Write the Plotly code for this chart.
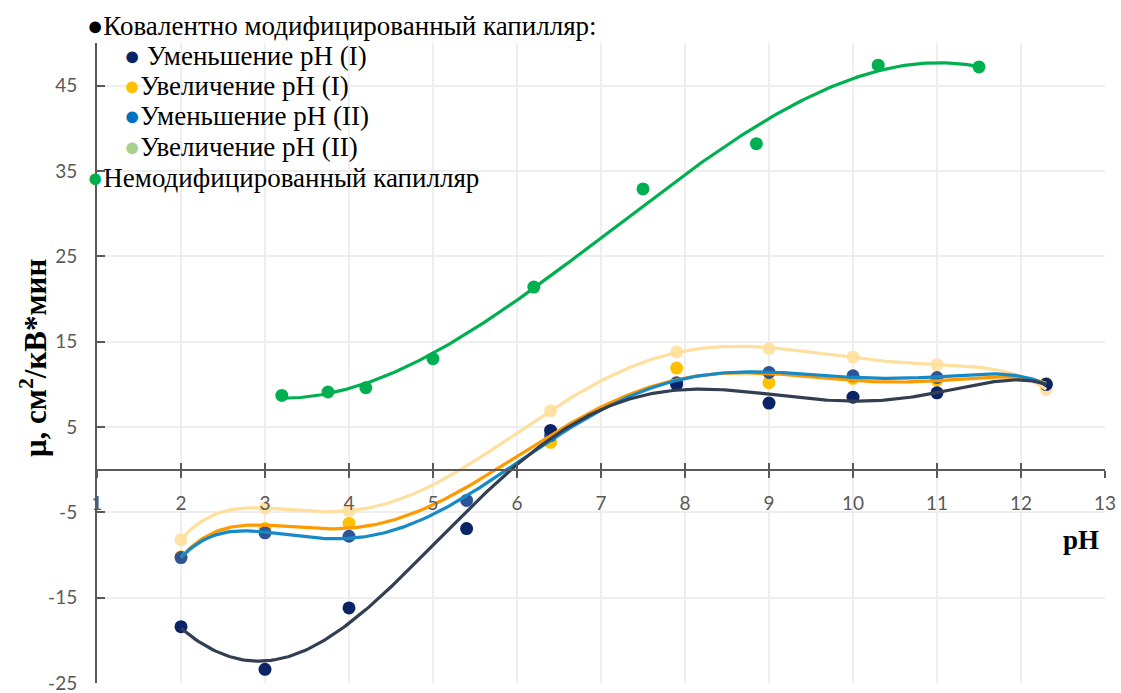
import numpy as np
import plotly.graph_objects as go

# ---- data: electroosmotic mobility vs pH ----
ph_dec_I = [2, 3, 4, 5.4, 6.4, 7.9, 9, 10, 11, 12.3]
mu_dec_I = [-18.4, -23.4, -16.2, -6.9, 4.6, 10.0, 7.8, 8.5, 9.0, 10.0]

ph_inc_I = [2, 3, 4, 6.4, 7.9, 9, 10, 11, 12.3]
mu_inc_I = [-10.2, -6.9, -6.3, 3.2, 11.9, 10.2, 10.7, 10.5, 10.1]

ph_dec_II = [2, 3, 4, 5.4, 6.4, 7.9, 9, 10, 11, 12.3]
mu_dec_II = [-10.3, -7.4, -7.8, -3.6, 4.0, 10.2, 11.4, 11.0, 10.8, 10.0]

ph_inc_II = [2, 3, 4, 6.4, 7.9, 9, 10, 11, 12.3]
mu_inc_II = [-8.2, -4.5, -4.8, 6.9, 13.8, 14.2, 13.2, 12.3, 9.4]

ph_unmod = [3.2, 3.75, 4.2, 5.0, 6.2, 7.5, 8.85, 10.3, 11.5]
mu_unmod = [8.7, 9.1, 9.6, 13.0, 21.4, 32.9, 38.2, 47.4, 47.2]

x_ticks = list(range(1, 14))
y_ticks = [-25, -15, -5, 5, 15, 25, 35, 45]

legend_header = "Ковалентно модифицированный капилляр:"
legend_items = ["Уменьшение pH (I)", "Увеличение pH (I)",
                "Уменьшение pH (II)", "Увеличение pH (II)"]
legend_unmod = "Немодифицированный капилляр"

# ---- geometry ----
W, H = 1121, 693
L, R, T, B = 97, 16, 43, 10
PW, PH = W - L - R, H - T - B


def px_x(px):
    return (px - L) / PW


def px_y(py):
    return (H - B - py) / PH


# series: (x, y, marker colour, trend colour, polynomial order)
series = [
    (ph_inc_II, mu_inc_II, "#FFE3A6", "#FFDF9E", 6),
    (ph_inc_I, mu_inc_I, "#FFC000", "#FF9900", 6),
    (ph_dec_II, mu_dec_II, "#2F5597", "#168AC6", 6),
    (ph_dec_I, mu_dec_I, "#0A2466", "#323F52", 6),
    (ph_unmod, mu_unmod, "#00B050", "#00B050", 3),
]

fig = go.Figure()

for xs, ys, mc, lc, order in series:
    fig.add_trace(go.Scatter(x=xs, y=ys, mode="markers",
                             marker=dict(size=13, color=mc),
                             showlegend=False, hoverinfo="skip"))

# polynomial trend lines fitted to each series
for xs, ys, mc, lc, order in series:
    coef = np.polyfit(xs, ys, order)
    xf = np.linspace(min(xs), max(xs), 300)
    fig.add_trace(go.Scatter(x=xf, y=np.polyval(coef, xf), mode="lines",
                             line=dict(color=lc, width=3.2),
                             showlegend=False, hoverinfo="skip"))

axis_font = dict(family="Lato, Liberation Sans, sans-serif", size=19,
                 color="#595959")
zero_pos = (0 - (-25)) / (50 - (-25))

fig.update_layout(
    width=W, height=H,
    margin=dict(l=L, r=R, t=T, b=B, autoexpand=False),
    paper_bgcolor="white", plot_bgcolor="white",
    xaxis=dict(range=[1, 13], tickvals=x_ticks, ticktext=[str(v) for v in x_ticks],
               anchor="free", position=zero_pos, automargin=False,
               showline=True, linecolor="#595959", linewidth=2,
               ticks="outside", ticklen=7, tickwidth=1.6, tickcolor="#595959",
               ticklabelstandoff=10,
               showgrid=True, gridcolor="#EEEEEE", gridwidth=2,
               zeroline=False, tickfont=axis_font),
    xaxis2=dict(range=[1, 13], tickvals=x_ticks, overlaying="x",
                anchor="free", position=zero_pos, automargin=False,
                showline=False, ticks="inside", ticklen=7, tickwidth=1.6,
                tickcolor="#595959", showticklabels=False, showgrid=False,
                zeroline=False),
    yaxis=dict(range=[-25, 50], tickvals=y_ticks, ticktext=[str(v) for v in y_ticks],
               automargin=False,
               showline=True, linecolor="#595959", linewidth=2,
               ticks="inside", ticklen=8, tickwidth=1.6, tickcolor="#595959",
               ticklabelstandoff=14, ticklabeloverflow="allow",
               showgrid=True, gridcolor="#EEEEEE", gridwidth=2,
               zeroline=False, tickfont=axis_font),
)
# invisible trace so the overlay axis (cross ticks) is drawn
fig.add_trace(go.Scatter(x=[1], y=[0], xaxis="x2", mode="markers",
                         marker=dict(opacity=0), showlegend=False,
                         hoverinfo="skip"))

serif = "Liberation Serif, Times New Roman, serif"

# axis titles
fig.add_annotation(xref="paper", yref="paper", x=px_x(33), y=px_y(358),
                   text="<b>μ, см<sup>2</sup>/кВ*мин</b>", textangle=-90,
                   showarrow=False, font=dict(family=serif, size=31, color="black"),
                   xanchor="center", yanchor="middle")
fig.add_annotation(xref="paper", yref="paper", x=px_x(1081), y=px_y(540),
                   text="<b>pH</b>", showarrow=False,
                   font=dict(family=serif, size=27, color="black"),
                   xanchor="center", yanchor="middle")

# legend block
dot = '<span style="color:{c}">●</span>'
legend_rows = [
    (dot.format(c="#000000") + legend_header, 85, 26),
    (dot.format(c="#0A2466") + " " + legend_items[0], 122, 56),
    (dot.format(c="#FFC000") + legend_items[1], 122, 86),
    (dot.format(c="#0070C0") + legend_items[2], 122, 116),
    (dot.format(c="#A9D18E") + legend_items[3], 122, 147),
    (dot.format(c="#00B050") + legend_unmod, 85, 178),
]
for txt, lx, ly in legend_rows:
    fig.add_annotation(xref="paper", yref="paper", x=px_x(lx), y=px_y(ly),
                       text=txt, showarrow=False, xanchor="left", yanchor="middle",
                       font=dict(family=serif, size=27, color="black"))

fig.write_html("out.html")
